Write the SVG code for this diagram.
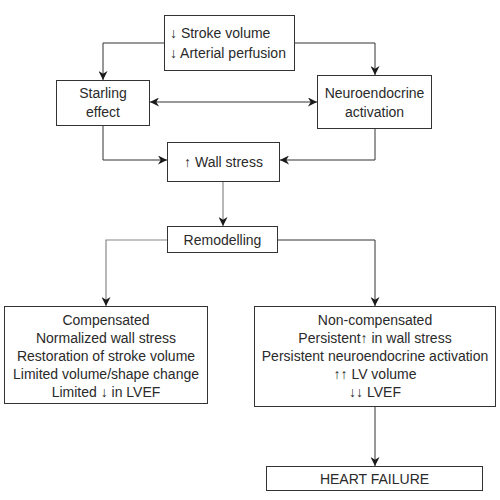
<svg xmlns="http://www.w3.org/2000/svg" width="500" height="500" viewBox="0 0 500 500">
<defs>
<marker id="ah" viewBox="0 0 10 10" refX="10" refY="5" markerWidth="9" markerHeight="9" markerUnits="userSpaceOnUse" orient="auto-start-reverse">
<path d="M0,0 L10,5 L0,10 L3,5 z" fill="#1a1a1a"/>
</marker>
<style>
.box{fill:#fff;stroke:#333;stroke-width:1}
.t{font-family:"Liberation Sans",Arial,sans-serif;font-size:14px;fill:#2a2a2a;text-anchor:middle}
.tl{font-family:"Liberation Sans",Arial,sans-serif;font-size:14px;fill:#2a2a2a}
.c{fill:none;stroke:#333;stroke-width:1}
.g{fill:none;stroke:#888;stroke-width:1.2}
</style>
</defs>
<rect width="500" height="500" fill="#fff"/>
<g id="connectors">
<polyline class="c" points="164.5,43 103,43 103,80" marker-end="url(#ah)"/>
<polyline class="c" points="295,43 375,43 375,75" marker-end="url(#ah)"/>
<line class="c" x1="150" y1="102" x2="317" y2="102" marker-start="url(#ah)" marker-end="url(#ah)"/>
<polyline class="c" points="103,126 103,160 167,160" marker-end="url(#ah)"/>
<polyline class="c" points="375,129 375,160 280,160" marker-end="url(#ah)"/>
<line class="g" x1="223" y1="182" x2="223" y2="226" marker-end="url(#ah)"/>
<polyline class="g" points="167.5,240 106,240 106,306" marker-end="url(#ah)"/>
<polyline class="c" points="277.5,240 375,240 375,306" marker-end="url(#ah)"/>
<line class="c" x1="375" y1="407" x2="375" y2="466" marker-end="url(#ah)"/>
</g>
<g id="top">
<rect class="box" x="164.5" y="15.5" width="130" height="55"/>
<text class="tl" x="170" y="38">↓ Stroke volume</text>
<text class="tl" x="170" y="58">↓ Arterial perfusion</text>
</g>
<g id="starling">
<rect class="box" x="56.5" y="80.5" width="93" height="45"/>
<text class="t" x="103" y="98">Starling</text>
<text class="t" x="103" y="117">effect</text>
</g>
<g id="neuro">
<rect class="box" x="317.5" y="75.5" width="114" height="53"/>
<text class="t" x="374.5" y="98">Neuroendocrine</text>
<text class="t" x="374.5" y="117">activation</text>
</g>
<g id="wallstress">
<rect class="box" x="167.5" y="142.5" width="112" height="39"/>
<text class="t" x="223.5" y="167">↑ Wall stress</text>
</g>
<g id="remodelling">
<rect class="box" x="167.5" y="226.5" width="110" height="26"/>
<text class="t" x="222.5" y="244.5">Remodelling</text>
</g>
<g id="compensated">
<rect class="box" x="4.5" y="306.5" width="203" height="97"/>
<text class="t" x="106" y="325">Compensated</text>
<text class="t" x="106" y="343">Normalized wall stress</text>
<text class="t" x="106" y="361">Restoration of stroke volume</text>
<text class="t" x="106" y="379">Limited volume/shape change</text>
<text class="t" x="106" y="397">Limited ↓ in LVEF</text>
</g>
<g id="noncompensated">
<rect class="box" x="254.5" y="306.5" width="241" height="100"/>
<text class="t" x="375" y="325">Non-compensated</text>
<text class="t" x="375" y="343">Persistent↑ in wall stress</text>
<text class="t" x="375" y="361">Persistent neuroendocrine activation</text>
<text class="t" x="375" y="379">↑↑ LV volume</text>
<text class="t" x="375" y="397">↓↓ LVEF</text>
</g>
<g id="heartfailure">
<rect class="box" x="266.5" y="466.5" width="216" height="24"/>
<text class="t" x="374.5" y="483.5">HEART FAILURE</text>
</g>
</svg>
